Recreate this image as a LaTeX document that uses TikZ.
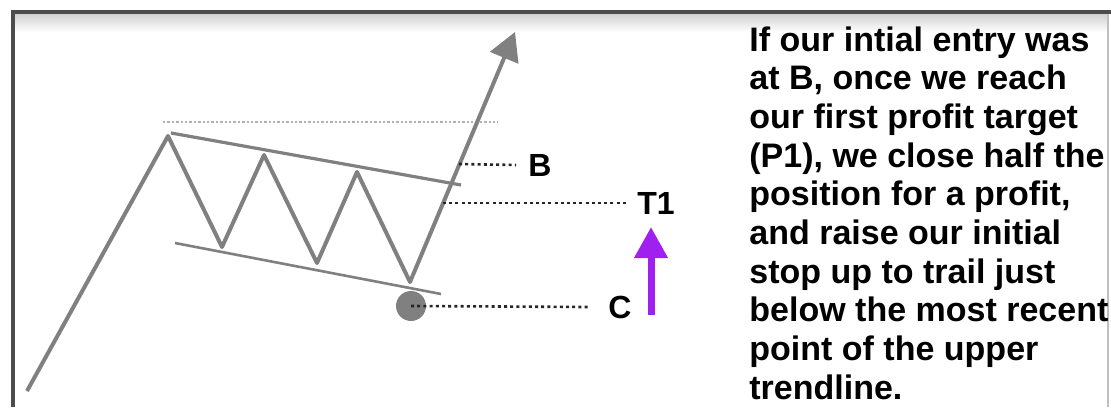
\documentclass[tikz,border=0pt]{standalone}
\usepackage{fontspec}
\setmainfont{Liberation Sans}
\usetikzlibrary{arrows.meta}
\definecolor{chartgray}{HTML}{808080}
\definecolor{stoppurple}{HTML}{A020F0}

\begin{document}
\begin{tikzpicture}[x=0.5pt,y=-0.5pt,
  price/.style={draw=chartgray, line width=2pt, line join=round},
  trend/.style={draw=chartgray, line width=1.3pt},
  leader/.style={draw=black!85, line width=1.3pt, dash pattern=on 1.5pt off 1.6pt},
  tag/.style={font=\fontsize{16}{19}\selectfont\bfseries, inner sep=0pt}]
\useasboundingbox (0,0) rectangle (1111,407);
% frame
\shade [top color=black!18, bottom color=white] (14,14) rectangle (1107,32);
\draw [line width=0.6pt, black!25] (1108,14) -- (1108,407);
\draw [line width=2pt, black!70] (12.5,407) -- (12.5,12) -- (1111,12);
% price path
\coordinate (start) at (27,391);
\coordinate (p1) at (168,136);
\coordinate (t1) at (222,247);
\coordinate (p2) at (264,155);
\coordinate (t2) at (317,263);
\coordinate (p3) at (357,172);
\coordinate (t3) at (410,282);
\coordinate (tip) at (515,32);
\draw [dash pattern=on 1.2pt off 1pt, line width=1.2pt, black!30] (163,122) -- (498,122);
\draw [trend, line width=1.6pt] (171,133) -- (461,185);
\draw [trend] (175,243) -- (441,294);
\draw [price, -{Triangle[length=14pt,width=15pt]}] (start) -- (p1) -- (t1) -- (p2) -- (t2) -- (p3) -- (t3) -- (tip);
% labels
\node (stop) [circle, fill=chartgray, minimum size=15pt, inner sep=0pt] at (411,306) {};
\node (B) [tag] at (540,165) {B};
\node (T1) [tag, anchor=west] at (637,203) {T1};
\node (C) [tag] at (620,307) {C};
\coordinate (entry) at (459,164);
\coordinate (target) at (443,203);
\draw [leader] (entry) -- ([xshift=-6pt]B.west);
\draw [leader] (target) -- ([xshift=-4pt]T1.west);
\draw [leader] (stop.center) -- ([xshift=-10pt]C.west);
\coordinate (raise) at (651,315);
\draw [stoppurple, line width=3.5pt, -{Triangle[length=15.5pt,width=16pt]}] (raise) -- (651,227);
% note
\node (note) [anchor=north west, align=left, inner sep=0pt,
  font=\fontsize{17}{19.35}\selectfont\bfseries] at (749,26)
  {If our intial entry was\\ at B, once we reach\\ our first profit target\\ (P1), we close half the\\
   position for a profit,\\ and raise our initial\\ stop up to trail just\\ below the most recent\\
   point of the upper\\ trendline.};
\end{tikzpicture}
\end{document}
